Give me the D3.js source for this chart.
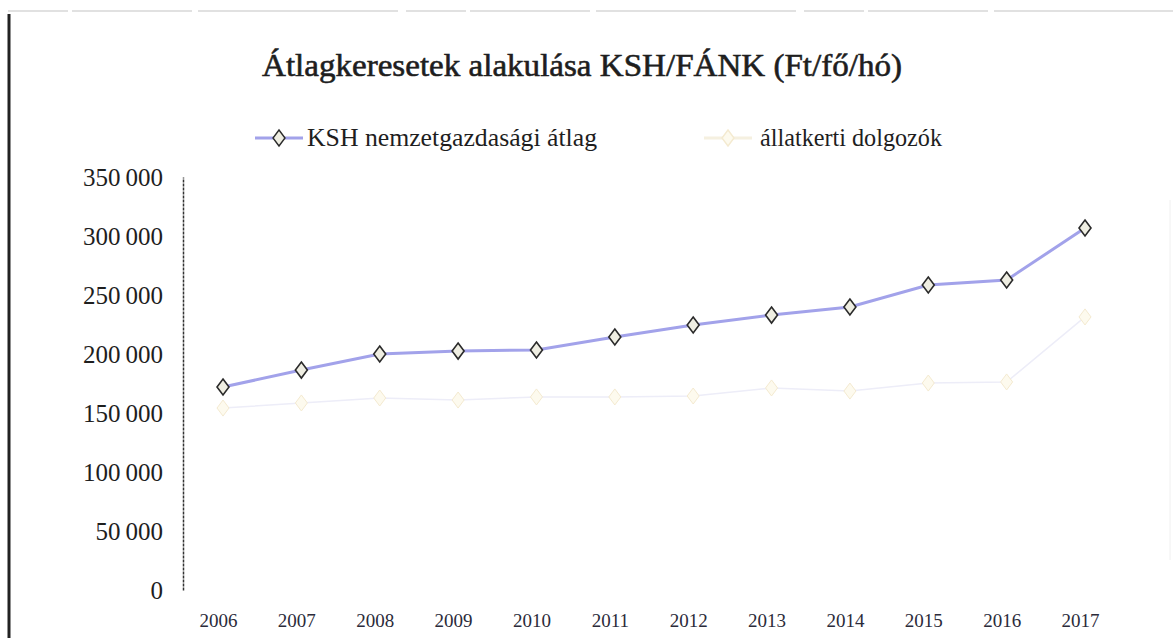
<!DOCTYPE html>
<html>
<head>
<meta charset="utf-8">
<script src="https://cdn.jsdelivr.net/npm/d3@7"></script>
<style>
  body { margin: 0; background: #fff; }
</style>
</head>
<body>
<script>
// data
const years = ["2006", "2007", "2008", "2009", "2010", "2011", "2012", "2013", "2014", "2015", "2016", "2017"];
const kshValues = [172000, 186400, 200000, 202500, 203400, 214400, 224600, 233000, 239800, 258500, 262700, 306800];
const zooValues = [154200, 158500, 162700, 161000, 163600, 163600, 164400, 171200, 168600, 175400, 176300, 231400];
const yTicks = [0, 50000, 100000, 150000, 200000, 250000, 300000, 350000];
const seriesNames = ["KSH nemzetgazdasági átlag", "állatkerti dolgozók"];
const title = "Átlagkeresetek alakulása KSH/FÁNK (Ft/fő/hó)";

const width = 1173, height = 638;
const serif = "Liberation Serif";

const svg = d3.select("body").append("svg")
  .attr("width", width)
  .attr("height", height)
  .attr("font-family", serif);

// frame of the scanned page
svg.append("line")
  .attr("x1", 8).attr("x2", width).attr("y1", 11).attr("y2", 11)
  .attr("stroke", "#c4c4c4").attr("stroke-width", 1.2)
  .attr("stroke-dasharray", "60,4,120,6,200,8");
svg.append("line")
  .attr("x1", 9).attr("x2", 9).attr("y1", 14).attr("y2", height)
  .attr("stroke", "#222").attr("stroke-width", 3);
svg.append("line")
  .attr("x1", 1170).attr("x2", 1170).attr("y1", 200).attr("y2", 560)
  .attr("stroke", "#f0f0f0").attr("stroke-width", 1);

// scales
const x = d3.scalePoint().domain(years).range([223, 1085]);
const y = d3.scaleLinear().domain([0, 350000]).range([590, 177]);

const fmt = d3.formatLocale({ thousands: "\u2009", grouping: [3], decimal: ",", currency: ["", ""] }).format(",d");

// title
svg.append("text")
  .attr("x", 262).attr("y", 76)
  .attr("textLength", 640).attr("lengthAdjust", "spacingAndGlyphs")
  .attr("font-family", serif)
  .attr("font-size", 32)
  .attr("fill", "#1e1e1e").attr("stroke", "#1e1e1e").attr("stroke-width", 0.6)
  .text(title);

// y axis
const yAxis = svg.append("g")
  .attr("transform", "translate(183,0)")
  .call(d3.axisLeft(y).tickValues(yTicks).tickFormat(fmt).tickSize(0).tickSizeOuter(0).tickPadding(20));
yAxis.select(".domain")
  .attr("stroke", "#333").attr("stroke-width", 1.5).attr("stroke-dasharray", "3,1");
yAxis.selectAll("text")
  .attr("font-size", 25)
  .attr("font-family", serif)
  .attr("fill", "#1e1e1e");

// x axis labels
const xAxis = svg.append("g")
  .attr("transform", "translate(-5,610)")
  .call(d3.axisBottom(x).tickSize(0).tickPadding(4));
xAxis.select(".domain").remove();
xAxis.selectAll("text")
  .attr("font-size", 19)
  .attr("font-family", serif)
  .attr("fill", "#2b2b3a");

const diamond = "M0,-8L6,0L0,8L-6,0Z";

const line = d3.line()
  .x((d, i) => x(years[i]))
  .y(d => y(d));

// állatkerti dolgozók (very faint in the scan)
svg.append("path")
  .datum(zooValues)
  .attr("d", line)
  .attr("fill", "none")
  .attr("stroke", "#ededf8")
  .attr("stroke-width", 1.5);
svg.selectAll(".zoo")
  .data(zooValues)
  .join("path")
  .attr("class", "zoo")
  .attr("transform", (d, i) => `translate(${x(years[i])},${y(d)})`)
  .attr("d", diamond)
  .attr("fill", "#fdfaee")
  .attr("stroke", "#f4ead0")
  .attr("stroke-width", 1);

// KSH nemzetgazdasági átlag
svg.append("path")
  .datum(kshValues)
  .attr("d", line)
  .attr("fill", "none")
  .attr("stroke", "#a2a2ea")
  .attr("stroke-width", 3);
svg.selectAll(".ksh")
  .data(kshValues)
  .join("path")
  .attr("class", "ksh")
  .attr("transform", (d, i) => `translate(${x(years[i])},${y(d)})`)
  .attr("d", diamond)
  .attr("fill", "#efeee2")
  .attr("stroke", "#2a2a2a")
  .attr("stroke-width", 1.6);

// legend
const legend = [
  { name: seriesNames[0], cx: 279, tx: 307, tw: 290, line: "#a2a2ea", fill: "#efeee2", stroke: "#2a2a2a" },
  { name: seriesNames[1], cx: 728, tx: 760, tw: 182, line: "#f5f0e0", fill: "#fdfaee", stroke: "#f4ead0" }
];
const lg = svg.selectAll(".legend")
  .data(legend)
  .join("g")
  .attr("class", "legend")
  .attr("transform", "translate(0,138)");
lg.append("line")
  .attr("x1", d => d.cx - 24).attr("x2", d => d.cx + 24)
  .attr("stroke", d => d.line).attr("stroke-width", 3);
lg.append("path")
  .attr("transform", d => `translate(${d.cx},0)`)
  .attr("d", diamond)
  .attr("fill", d => d.fill).attr("stroke", d => d.stroke).attr("stroke-width", 1.4);
lg.append("text")
  .attr("x", d => d.tx).attr("y", 8)
  .attr("textLength", d => d.tw).attr("lengthAdjust", "spacingAndGlyphs")
  .attr("font-family", serif)
  .attr("font-size", 25)
  .attr("fill", "#1e1e1e")
  .text(d => d.name);
</script>
</body>
</html>
